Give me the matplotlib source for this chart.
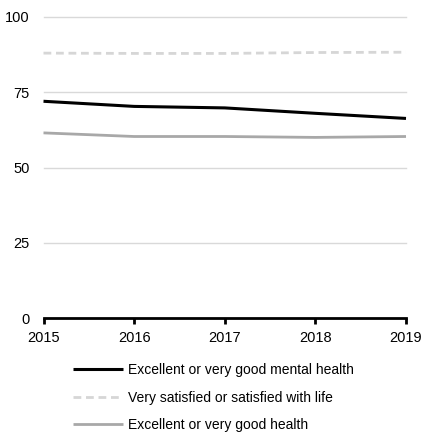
import matplotlib
matplotlib.use("Agg")
import matplotlib.pyplot as plt

years = [2015, 2016, 2017, 2018, 2019]
mental_health = [72.0, 70.3, 69.8, 68.0, 66.3]
life_satisfaction = [88.0, 87.9, 87.9, 88.2, 88.3]
general_health = [61.5, 60.3, 60.3, 60.0, 60.3]
labels = [
    "Excellent or very good mental health",
    "Very satisfied or satisfied with life",
    "Excellent or very good health",
]
y_ticks = [0, 25, 50, 75, 100]

plt.rcParams["font.family"] = ["Liberation Sans", "DejaVu Sans"]

fig = plt.figure(figsize=(4.23, 4.33), dpi=100)
ax = fig.add_axes([43.5 / 423, 115 / 433, 362.5 / 423, 301 / 433])

ax.plot(years, mental_health, color="black", lw=2.2, label=labels[0],
        zorder=3, clip_on=False, solid_capstyle="butt")
ax.plot(years, life_satisfaction, color="#d6d6d6", lw=2.0, ls=(0, (2.8, 1.7)),
        label=labels[1], zorder=3, clip_on=False)
ax.plot(years, general_health, color="#a8a8a8", lw=2.0, label=labels[2],
        zorder=3, clip_on=False, solid_capstyle="butt")

ax.set_xlim(2015, 2019)
ax.set_ylim(0, 100)
ax.set_xticks(years)
ax.set_yticks(y_ticks)
for y in y_ticks[1:]:
    ax.axhline(y, color="#d9d9d9", lw=1.0, zorder=1, clip_on=False)

for s in ["top", "right", "left"]:
    ax.spines[s].set_visible(False)
ax.spines["bottom"].set_linewidth(2.0)
ax.spines["bottom"].set_color("black")

ax.tick_params(axis="x", direction="out", length=4, width=2, pad=5,
               labelsize=10.5, color="black")
ax.tick_params(axis="y", length=0, pad=10, labelsize=10.5)

fig.legend(loc="upper left", bbox_to_anchor=(73 / 423, 0.161),
           bbox_transform=fig.transFigure, frameon=False, fontsize=10,
           handlelength=3.6, handletextpad=0.36, labelspacing=0.97,
           borderpad=0, borderaxespad=0)

fig.savefig("out.png", dpi=100)
